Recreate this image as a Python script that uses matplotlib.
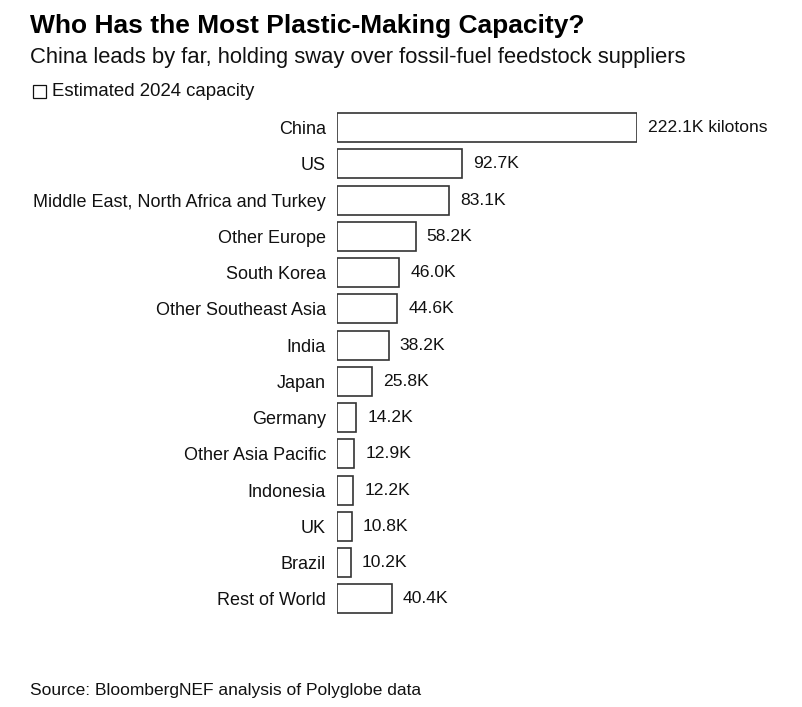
import matplotlib.pyplot as plt
from matplotlib.patches import Rectangle

plt.rcParams['font.family'] = ['Liberation Sans', 'DejaVu Sans']

regions = ["China", "US", "Middle East, North Africa and Turkey", "Other Europe",
           "South Korea", "Other Southeast Asia", "India", "Japan", "Germany",
           "Other Asia Pacific", "Indonesia", "UK", "Brazil", "Rest of World"]
capacity = [222.1, 92.7, 83.1, 58.2, 46.0, 44.6, 38.2, 25.8, 14.2, 12.9, 12.2, 10.8, 10.2, 40.4]
value_labels = ["222.1K kilotons", "92.7K", "83.1K", "58.2K", "46.0K", "44.6K", "38.2K",
                "25.8K", "14.2K", "12.9K", "12.2K", "10.8K", "10.2K", "40.4K"]

W, H = 803, 707
fig = plt.figure(figsize=(W / 100, H / 100), dpi=100)

# axes placed in pixel terms so bars line up with the reference
left, right, top, bottom = 337, 637, 109.4, 617
ax = fig.add_axes([left / W, 1 - bottom / H, (right - left) / W, (bottom - top) / H])

y = list(range(len(regions)))
ax.barh(y, capacity, height=0.8, color="white", edgecolor="#333333", linewidth=1.2)
ax.set_xlim(0, max(capacity))
ax.set_ylim(len(regions) - 0.5, -0.5)

for yi, v, lab in zip(y, capacity, value_labels):
    ax.annotate(lab, (v, yi), xytext=(8, 0), textcoords="offset points",
                ha="left", va="center", fontsize=12.6, color="#111111", annotation_clip=False)

ax.set_yticks(y)
ax.set_yticklabels(regions, fontsize=13, color="#111111")
ax.tick_params(axis="y", length=0, pad=8)
ax.set_xticks([])
for s in ax.spines.values():
    s.set_visible(False)

fig.text(30 / W, 1 - 26 / H, "Who Has the Most Plastic-Making Capacity?",
         fontsize=19, fontweight="bold", va="center", ha="left", color="black")
fig.text(30 / W, 1 - 58 / H, "China leads by far, holding sway over fossil-fuel feedstock suppliers",
         fontsize=15.8, va="center", ha="left", color="#111111")
fig.patches.append(Rectangle((33 / W, 1 - 98 / H), 13 / W, 13 / H, transform=fig.transFigure,
                             facecolor="white", edgecolor="#111111", linewidth=0.9))
fig.text(52 / W, 1 - 91 / H, "Estimated 2024 capacity", fontsize=13.4,
         va="center", ha="left", color="#111111")
fig.text(30 / W, 1 - 690 / H, "Source: BloombergNEF analysis of Polyglobe data",
         fontsize=12.5, va="center", ha="left", color="#111111")

fig.savefig("out.png", dpi=100, facecolor="white")
